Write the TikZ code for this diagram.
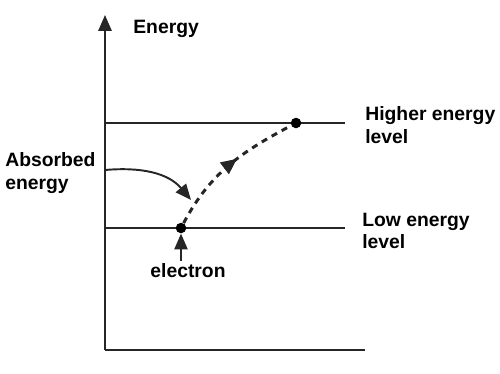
\documentclass[tikz,border=0pt]{standalone}
\usepackage{fontspec}
\setmainfont{Liberation Sans}
\usetikzlibrary{arrows.meta,decorations.markings}

\tikzset{
  axisline/.style = {line width=1.1pt, black!85},
  level/.style = {line width=1.1pt, black!85},
  lbl/.style = {font=\bfseries\fontsize{11}{13}\selectfont, align=left, inner sep=0pt},
  dot/.style = {circle, fill=black, inner sep=0pt, minimum size=6pt},
  tip/.style = {-{Triangle[length=9pt,width=7.5pt]}}
}

\begin{document}
\begin{tikzpicture}[x=0.02cm, y=0.02cm]
    \useasboundingbox (0,0) rectangle (500,373);
    % axes
    \coordinate (O) at (105,23);
    \coordinate (ytop) at (105,358);
    \coordinate (xend) at (365,23);
    \draw[axisline, tip] (O) -- (ytop);
    \draw[axisline] (O) -- (xend);
    \node[lbl, anchor=west] (energy) at (133,344) {Energy};

    % energy levels
    \coordinate (hiL) at (105,250);
    \coordinate (hiR) at (345,250);
    \coordinate (loL) at (105,145);
    \coordinate (loR) at (345,145);
    \draw[level] (hiL) -- (hiR);
    \draw[level] (loL) -- (loR);
    \node[lbl, anchor=west] (hitext) at (365,248) {Higher energy\\level};
    \node[lbl, anchor=west] (lotext) at (362,142) {Low energy\\level};

    % electron
    \node[dot] (lo) at (181,145) {};
    \node[dot] (hi) at (296,250) {};
    \node[lbl] (electron) at (188,102) {electron};
    \coordinate (etail) at (181,112);
    \draw[axisline, tip] (etail) -- (lo.south);

    % absorbed energy
    \node[lbl, anchor=west] (absorbed) at (5,200) {Absorbed\\energy};
    \coordinate (astart) at (105,203);
    \coordinate (aend) at (191,173);
    \draw[axisline, tip] (astart) to[out=5, in=130] (aend);

    % jump of the electron
    \draw[line width=1.7pt, black!85, dash pattern=on 3.5pt off 3pt,
          postaction={decorate},
          decoration={markings, mark=at position 0.57 with {\arrow{Triangle[length=9pt,width=8pt]}}}]
        (lo) to[out=62, in=208] (hi);
\end{tikzpicture}
\end{document}
